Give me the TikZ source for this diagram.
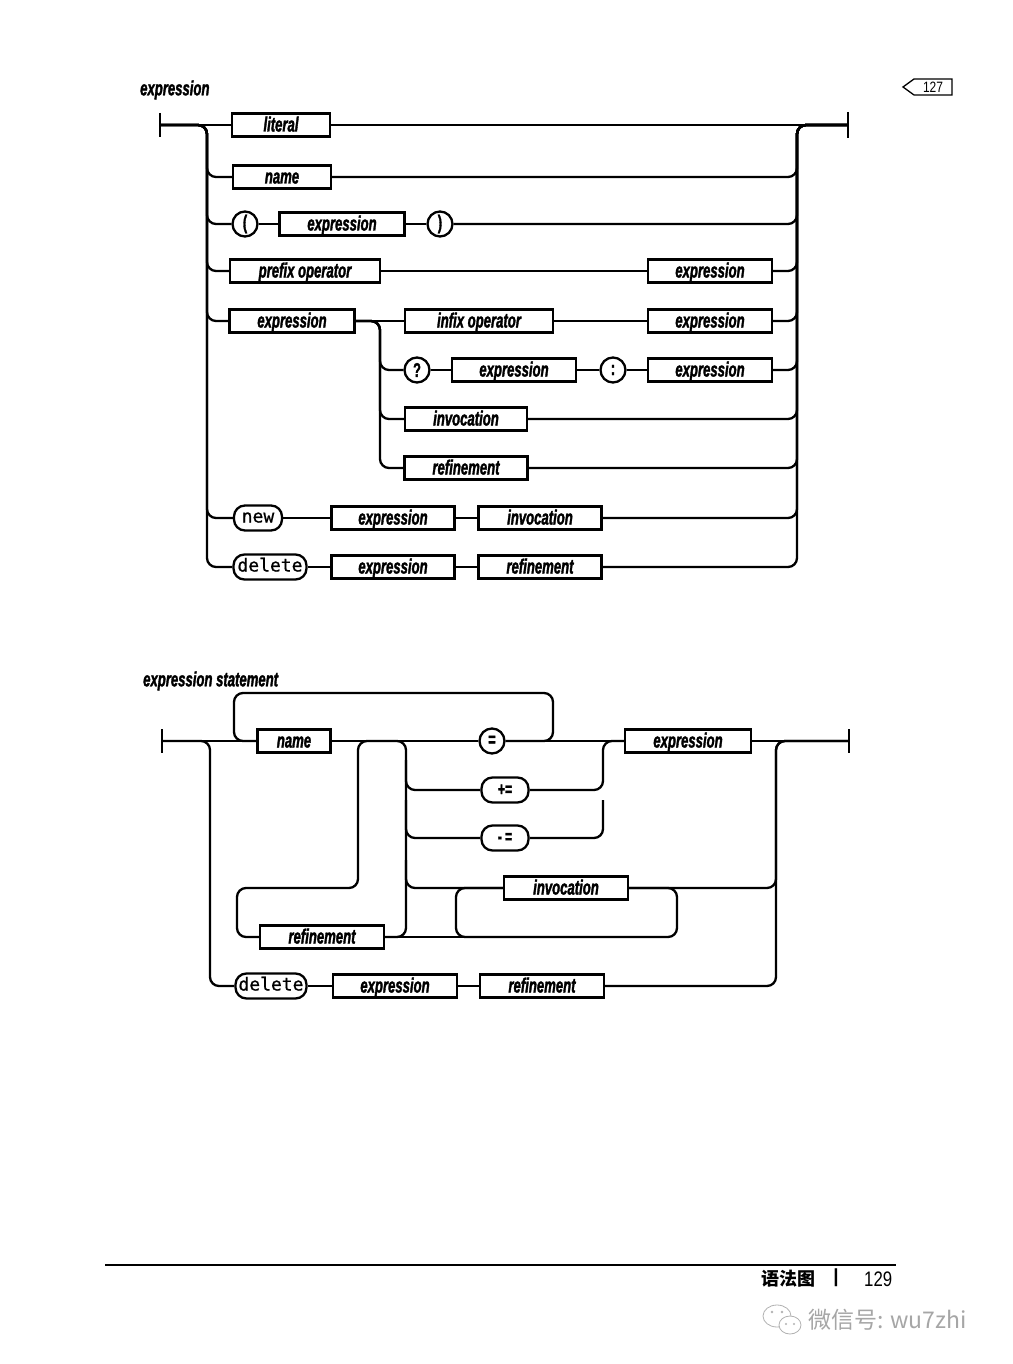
\documentclass[tikz,border=0pt]{standalone}
\usepackage{fontspec}
\setmainfont{Liberation Sans}
\newfontfamily\rrf{Liberation Sans}[FakeStretch=0.64, FakeBold=1.6]
\newfontfamily\numf{Liberation Sans}[FakeStretch=0.8]
\newfontfamily\monof{DejaVu Sans Mono}[FakeBold=0.8]
\newfontfamily\cjkf{Noto Sans CJK SC}
\tikzset{
  nt/.style={draw, line width=2.3pt, fill=white, minimum height=23pt, inner sep=0pt,
    text height=16pt, text depth=3pt,
    font={\rrf\bfseries\itshape\fontsize{20.5pt}{20.5pt}\selectfont}},
  pill/.style={draw, line width=2.3pt, fill=white, rounded corners=11pt, minimum height=25pt,
    inner sep=0pt, text height=12pt, text depth=3pt,
    font={\monof\fontsize{18pt}{18pt}\selectfont}},
  opill/.style={draw, line width=2.3pt, fill=white, rounded corners=11pt, minimum height=25pt,
    minimum width=47pt, inner sep=0pt, font={\rrf\bfseries\fontsize{19pt}{19pt}\selectfont}},
  circ/.style={draw, circle, line width=2.3pt, fill=white, minimum size=25pt, inner sep=0pt,
    font={\rrf\bfseries\fontsize{20pt}{20pt}\selectfont}},
  rail/.style={line width=2.3pt, rounded corners=9pt},
  bar/.style={line width=2.3pt},
  ttl/.style={anchor=west, inner sep=0pt, font={\rrf\bfseries\itshape\fontsize{20.5pt}{20.5pt}\selectfont}}
}
\begin{document}
\begin{tikzpicture}[x=1pt,y=-1pt]
\useasboundingbox (0,0) rectangle (1012,1364);
\fill[white] (0,0) rectangle (1012,1364);

% ---------------- titles and tag
\node[ttl] (title1) at (140,90) {expression};
\node[ttl] (title2) at (143,681) {expression statement};
\draw[line width=1.3pt] (903,87) -- (914,79) -- (952,79) -- (952,95) -- (914,95) -- cycle;
\node[font={\numf\fontsize{15pt}{15pt}\selectfont}] (pg127) at (933,87) {127};

% ---------------- expression diagram nodes
\node[nt, minimum width=98pt] (t1) at (281,125) {literal};
\node[nt, minimum width=98pt] (t2) at (282,177) {name};
\node[circ] (t3l) at (245,224) {(};
\node[nt, minimum width=125pt] (t3e) at (342,224) {expression};
\node[circ] (t3r) at (440,224) {)};
\node[nt, minimum width=150pt] (t4) at (305,271) {prefix operator};
\node[nt, minimum width=124pt] (t4e) at (710,271) {expression};
\node[nt, minimum width=125pt] (t5) at (292,321) {expression};
\node[nt, minimum width=148pt] (t5i) at (479,321) {infix operator};
\node[nt, minimum width=124pt] (t5e) at (710,321) {expression};
\node[circ] (t6q) at (417,370) {?};
\node[nt, minimum width=124pt] (t6e) at (514,370) {expression};
\node[circ] (t6c) at (613,370) {:};
\node[nt, minimum width=124pt] (t6e2) at (710,370) {expression};
\node[nt, minimum width=122pt] (t7) at (466,419) {invocation};
\node[nt, minimum width=123pt] (t8) at (466,468) {refinement};
\node[pill, minimum width=48pt] (t9n) at (258,518) {new};
\node[nt, minimum width=123pt] (t9e) at (393,518) {expression};
\node[nt, minimum width=123pt] (t9i) at (540,518) {invocation};
\node[pill, minimum width=73pt] (t10d) at (270,567) {delete};
\node[nt, minimum width=123pt] (t10e) at (393,567) {expression};
\node[nt, minimum width=123pt] (t10r) at (540,567) {refinement};

\coordinate (tstart) at (160,125);
\coordinate (tend) at (848,125);
\draw[bar] (160,113) -- (160,137);
\draw[bar] (848,112) -- (848,138);

\draw[rail] (tstart) -- (t1);
\draw[rail] (t1) -- (tend);
\foreach \n/\y in {t2/177, t3l/224, t4/271, t5/321, t9n/518, t10d/567}
  \draw[rail] (tstart) -- (207,125) -- (207,\y) -- (\n.west);
\foreach \n/\y in {t2/177, t3r/224, t4e/271, t5e/321, t6e2/370, t7/419, t8/468, t9i/518, t10r/567}
  \draw[rail] (\n.east) -- (797,\y) -- (797,125) -- (tend);
\draw[rail] (t3l) -- (t3e);
\draw[rail] (t3e) -- (t3r);
\draw[rail] (t4) -- (t4e);
\draw[rail] (t5) -- (t5i);
\draw[rail] (t5i) -- (t5e);
\foreach \n/\y in {t6q/370, t7/419, t8/468}
  \draw[rail] (t5.east) -- (380,321) -- (380,\y) -- (\n.west);
\draw[rail] (t6q) -- (t6e);
\draw[rail] (t6e) -- (t6c);
\draw[rail] (t6c) -- (t6e2);
\draw[rail] (t9n) -- (t9e);
\draw[rail] (t9e) -- (t9i);
\draw[rail] (t10d) -- (t10e);
\draw[rail] (t10e) -- (t10r);

% ---------------- expression statement nodes
\node[nt, minimum width=73pt] (sname) at (294,741) {name};
\node[circ] (seq) at (492,741) {=};
\node[opill] (splus) at (505,790) {+=};
\node[opill] (sminus) at (505,838) {-\,=};
\node[nt, minimum width=126pt] (sexpr) at (688,741) {expression};
\node[nt, minimum width=124pt] (sinv) at (566,888) {invocation};
\node[nt, minimum width=124pt] (sref) at (322,937) {refinement};
\node[pill, minimum width=71pt] (sdel) at (271,986) {delete};
\node[nt, minimum width=124pt] (sdexpr) at (395,986) {expression};
\node[nt, minimum width=124pt] (sdref) at (542,986) {refinement};

\coordinate (sstart) at (162,741);
\coordinate (send) at (849,741);
\draw[bar] (162,729) -- (162,753);
\draw[bar] (849,729) -- (849,753);

\draw[rail] (sstart) -- (sname);
\draw[rail] (sname) -- (seq);
\draw[rail] (seq) -- (sexpr);
\draw[rail] (sexpr) -- (send);
% delete branch
\draw[rail] (sstart) -- (210,741) -- (210,986) -- (sdel.west);
\draw[rail] (sdel) -- (sdexpr);
\draw[rail] (sdexpr) -- (sdref);
\draw[rail] (sdref.east) -- (776,986) -- (776,741) -- (send);
% loop over name
\draw[rail] (seq.east) -- (553,741) -- (553,693) -- (234,693) -- (234,741) -- (sname.west);
% refinement loop
\draw[rail] (sref.east) -- (406,937) -- (406,741) -- (358,741) -- (358,888) -- (237,888) -- (237,937) -- (sref.west);
% assignment branches
\draw[rail] (406,760) -- (406,790) -- (splus.west);
\draw[rail] (406,800) -- (406,838) -- (sminus.west);
\draw[rail] (splus.east) -- (603,790) -- (603,741) -- (sexpr.west);
\draw[rail] (sminus.east) -- (603,838) -- (603,800);
% invocation branch and loop
\draw[rail] (406,860) -- (406,888) -- (sinv.west);
\draw[rail] (sref.east) -- (470,937);
\draw[rail] (sinv.east) -- (677,888) -- (677,937) -- (456,937) -- (456,888) -- (sinv.west);
\draw[rail] (sinv.east) -- (776,888) -- (776,741) -- (send);

% ---------------- footer
\draw[line width=1.3pt] (105,1265) -- (896,1265);
\node[anchor=west, inner sep=0pt, font={\cjkf\bfseries\fontsize{18pt}{18pt}\selectfont}] (ft1) at (761,1279) {语法图};
\node[inner sep=0pt, font={\fontsize{19pt}{19pt}\selectfont\bfseries}] (ft2) at (836,1278) {|};
\node[anchor=west, inner sep=0pt, font={\numf\fontsize{21pt}{21pt}\selectfont}] (ft3) at (864,1279) {129};
% watermark
\begin{scope}[draw=black!30, line width=0.8pt]
  \draw (777,1316) ellipse [x radius=14pt, y radius=11pt];
  \draw[fill=white] (790,1325) ellipse [x radius=11pt, y radius=9pt];
  \fill[black!30] (772,1312) circle (1.3pt) (782,1312) circle (1.3pt) (786,1324) circle (1.1pt) (794,1324) circle (1.1pt);
\end{scope}
\node[anchor=west, inner sep=0pt, text=black!35, font={\cjkf\fontsize{23pt}{23pt}\selectfont}] (wm) at (808,1320) {微信号: wu7zhi};
\end{tikzpicture}
\end{document}
